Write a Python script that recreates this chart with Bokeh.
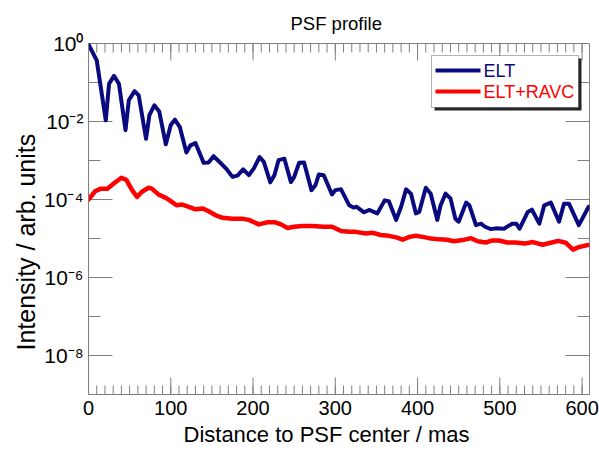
import numpy as np
from bokeh.plotting import figure
from bokeh.models import (ColumnDataSource, FixedTicker, LinearAxis, LogAxis,
                          BoxAnnotation, Label, Range1d, Title)
from bokeh.embed import file_html
from bokeh.resources import INLINE

FONT = "Liberation Sans"

# ---------------- data ----------------
elt_x = [0, 10, 21, 25, 31, 37, 45, 49, 56, 61, 70, 74, 80, 86, 94, 100, 105, 111,
         119, 124, 130, 140, 146, 152, 159, 167, 175, 181, 188, 195, 201, 208, 213,
         221, 226, 231, 238, 246, 250, 256, 262, 271, 276, 280, 286, 296, 300, 307,
         317, 322, 326, 335, 341, 346, 351, 360, 365, 374, 380, 386, 392, 398, 402,
         410, 416, 424, 428, 434, 440, 446, 450, 459, 463, 471, 477, 482, 489, 495,
         505, 515, 520, 524, 534, 539, 548, 554, 562, 572, 578, 584, 596, 608]
elt_y = [0.95, 0.37, 1.07e-2, 9.3e-2, 0.148, 9.3e-2, 6.0e-3, 3.5e-2, 6.0e-2, 4.7e-2,
         3.6e-3, 1.45e-2, 2.6e-2, 1.8e-2, 2.6e-3, 8.1e-3, 1.12e-2, 7.2e-3,
         1.6e-3, 2.45e-3, 2.8e-3, 8.7e-4, 8.9e-4, 1.29e-3, 9.3e-4, 6.3e-4, 3.8e-4,
         4.1e-4, 5.9e-4, 4.2e-4, 6.3e-4, 1.23e-3, 9.3e-4, 2.75e-4, 4.2e-4, 1.02e-3,
         1.12e-3, 2.8e-4, 3.8e-4, 8.7e-4, 8.9e-4, 1.74e-4, 2.35e-4, 4.4e-4, 4.2e-4,
         1.35e-4, 1.74e-4, 1.82e-4, 7.1e-5, 6.2e-5, 6.5e-5, 4.7e-5, 5.4e-5, 4.9e-5,
         4.4e-5, 9.5e-5, 9.1e-5, 3.0e-5, 6.5e-5, 1.82e-4, 1.41e-4, 4.4e-5, 4.8e-5,
         2.0e-4, 1.41e-4, 3.0e-5, 7.1e-5, 1.41e-4, 1.07e-4, 3.2e-5, 2.7e-5, 8.3e-5,
         7.1e-5, 2.2e-5, 2.4e-5, 2.0e-5, 1.74e-5, 1.82e-5, 1.78e-5, 2.4e-5, 2.4e-5,
         1.78e-5, 4.8e-5, 5.5e-5, 2.4e-5, 7.1e-5, 8.3e-5, 2.7e-5, 7.8e-5, 7.8e-5,
         2.2e-5, 6.5e-5]

ravc_x = [0, 8, 15, 23, 31, 40, 46, 53, 59, 65, 73, 77, 85, 94, 100, 107, 114, 122,
          130, 139, 146, 154, 163, 175, 187, 195, 207, 217, 227, 234, 242, 250, 260,
          272, 286, 296, 307, 317, 325, 337, 345, 355, 365, 374, 382, 390, 398, 406,
          414, 426, 436, 444, 455, 465, 473, 483, 491, 499, 509, 519, 530, 540, 552,
          562, 571, 580, 589, 596, 607]
ravc_y = [1.0e-4, 1.62e-4, 1.9e-4, 1.9e-4, 2.6e-4, 3.6e-4, 3.2e-4, 1.74e-4, 1.17e-4,
          1.58e-4, 2.0e-4, 1.9e-4, 1.35e-4, 1.1e-4, 9.1e-5, 7.1e-5, 7.4e-5, 6.5e-5,
          5.6e-5, 5.9e-5, 5.0e-5, 4.0e-5, 3.4e-5, 3.2e-5, 3.2e-5, 3.0e-5, 2.3e-5,
          2.6e-5, 2.6e-5, 2.3e-5, 1.86e-5, 2.0e-5, 2.1e-5, 2.1e-5, 2.0e-5, 2.0e-5,
          1.55e-5, 1.48e-5, 1.48e-5, 1.35e-5, 1.41e-5, 1.23e-5, 1.17e-5, 1.07e-5,
          9.3e-6, 1.1e-5, 1.17e-5, 1.1e-5, 1.02e-5, 9.5e-6, 9.3e-6, 8.5e-6, 9.1e-6,
          1.02e-5, 8.5e-6, 7.9e-6, 8.9e-6, 8.9e-6, 7.9e-6, 7.9e-6, 7.4e-6, 8.1e-6,
          6.9e-6, 7.8e-6, 8.7e-6, 7.8e-6, 5.2e-6, 6.0e-6, 6.8e-6]

x_ticks = [0, 100, 200, 300, 400, 500, 600]
x_minor = list(range(10, 610, 10))
y_ticks = [1e0, 1e-2, 1e-4, 1e-6, 1e-8]
y_tick_labels = ["10\u2070", "10\u207b\u00b2", "10\u207b\u2074", "10\u207b\u2076", "10\u207b\u2078"]
y_minor = [1e-1, 1e-3, 1e-5, 1e-7]

x_lo, x_hi = 0, 609
y_lo, y_hi = 1e-9, 1e0

series_names = ["ELT", "ELT+RAVC"]
series_colors = ["#0a0a80", "#ff0000"]
TICK = "#808080"

# ---------------- figure ----------------
p = figure(frame_width=501, frame_height=351,
           min_border_left=88, min_border_right=10, min_border_top=43, min_border_bottom=60,
           x_range=Range1d(x_lo, x_hi), y_range=Range1d(y_lo, y_hi),
           y_axis_type="log", x_axis_location=None, y_axis_location=None,
           output_backend="svg", toolbar_location=None)
p.title = Title(text="PSF profile", text_font=FONT, text_font_size="18.5px",
                text_font_style="normal", text_color="black", align="left",
                offset=202, standoff=20)
p.grid.visible = False
p.outline_line_color = TICK
p.outline_line_width = 1
p.background_fill_color = "white"
p.border_fill_color = "white"


def style(ax):
    ax.major_tick_line_color = None
    ax.minor_tick_line_color = None
    ax.major_tick_out = 0
    ax.minor_tick_out = 0
    ax.major_tick_in = 0
    ax.minor_tick_in = 0
    ax.axis_line_color = TICK
    ax.major_label_text_font = FONT
    ax.major_label_text_color = "black"


xb = LinearAxis(ticker=FixedTicker(ticks=x_ticks))
style(xb)
xb.major_label_text_font_size = "20px"
xb.major_label_standoff = 6
p.add_layout(xb, "below")
p.add_layout(Title(text="Distance to PSF center / mas", text_font=FONT,
                   text_font_size="22px", text_font_style="normal", text_color="black",
                   align="left", offset=95, standoff=5), "below")

yl = LogAxis(ticker=FixedTicker(ticks=y_ticks),
             major_label_overrides={v: s for v, s in zip(y_ticks, y_tick_labels)})
style(yl)
yl.major_label_text_font_size = "21px"
yl.major_label_standoff = 5
p.add_layout(yl, "left")
p.add_layout(Title(text="Intensity / arb. units", text_font=FONT,
                   text_font_size="25px", text_font_style="normal", text_color="black",
                   align="left", offset=44, standoff=4), "left")

# inward ticks on all four sides of the frame (rays with pixel lengths)
tick_kw = dict(length_units="screen", line_color=TICK, line_width=1)
p.ray(x=x_ticks, y=[y_lo] * len(x_ticks), length=17, angle=np.pi / 2, **tick_kw)
p.ray(x=x_minor, y=[y_lo] * len(x_minor), length=9, angle=np.pi / 2, **tick_kw)
p.ray(x=x_ticks, y=[y_hi] * len(x_ticks), length=17, angle=-np.pi / 2, **tick_kw)
p.ray(x=x_minor, y=[y_hi] * len(x_minor), length=9, angle=-np.pi / 2, **tick_kw)
p.ray(x=[x_lo] * len(y_ticks), y=y_ticks, length=24, angle=0, **tick_kw)
p.ray(x=[x_lo] * len(y_minor), y=y_minor, length=12, angle=0, **tick_kw)
p.ray(x=[x_hi] * len(y_ticks), y=y_ticks, length=24, angle=np.pi, **tick_kw)
p.ray(x=[x_hi] * len(y_minor), y=y_minor, length=12, angle=np.pi, **tick_kw)

src_elt = ColumnDataSource(dict(x=elt_x, y=elt_y))
src_ravc = ColumnDataSource(dict(x=ravc_x, y=ravc_y))
p.line("x", "y", source=src_ravc, line_color=series_colors[1], line_width=4.5,
       line_join="round", line_cap="round")
p.line("x", "y", source=src_elt, line_color=series_colors[0], line_width=4,
       line_join="round", line_cap="round")

# ---------------- legend (box with shadow, coloured texts) ----------------
scr = dict(left_units="screen", right_units="screen", top_units="screen", bottom_units="screen")
shadow = BoxAnnotation(left=346, right=493, top=336, bottom=284, fill_color="black",
                       fill_alpha=0.85, line_alpha=0, level="overlay", **scr)
box = BoxAnnotation(left=343, right=490, top=339, bottom=287, fill_color="white",
                    fill_alpha=1, line_color="black", line_width=1, level="overlay", **scr)
p.add_layout(shadow)
p.add_layout(box)
for i, (name, col) in enumerate(zip(series_names, series_colors)):
    yc = 324 - 21 * i
    sample = BoxAnnotation(left=347, right=392, top=yc + 2, bottom=yc - 2, fill_color=col,
                           fill_alpha=1, line_alpha=0, level="overlay", **scr)
    p.add_layout(sample)
    lab = Label(x=395, y=yc, x_units="screen", y_units="screen", text=name,
                text_color=col, text_font=FONT, text_font_size="18px",
                text_baseline="middle", text_align="left", level="overlay")
    p.add_layout(lab)

open("out.html", "w").write(file_html(p, INLINE))
